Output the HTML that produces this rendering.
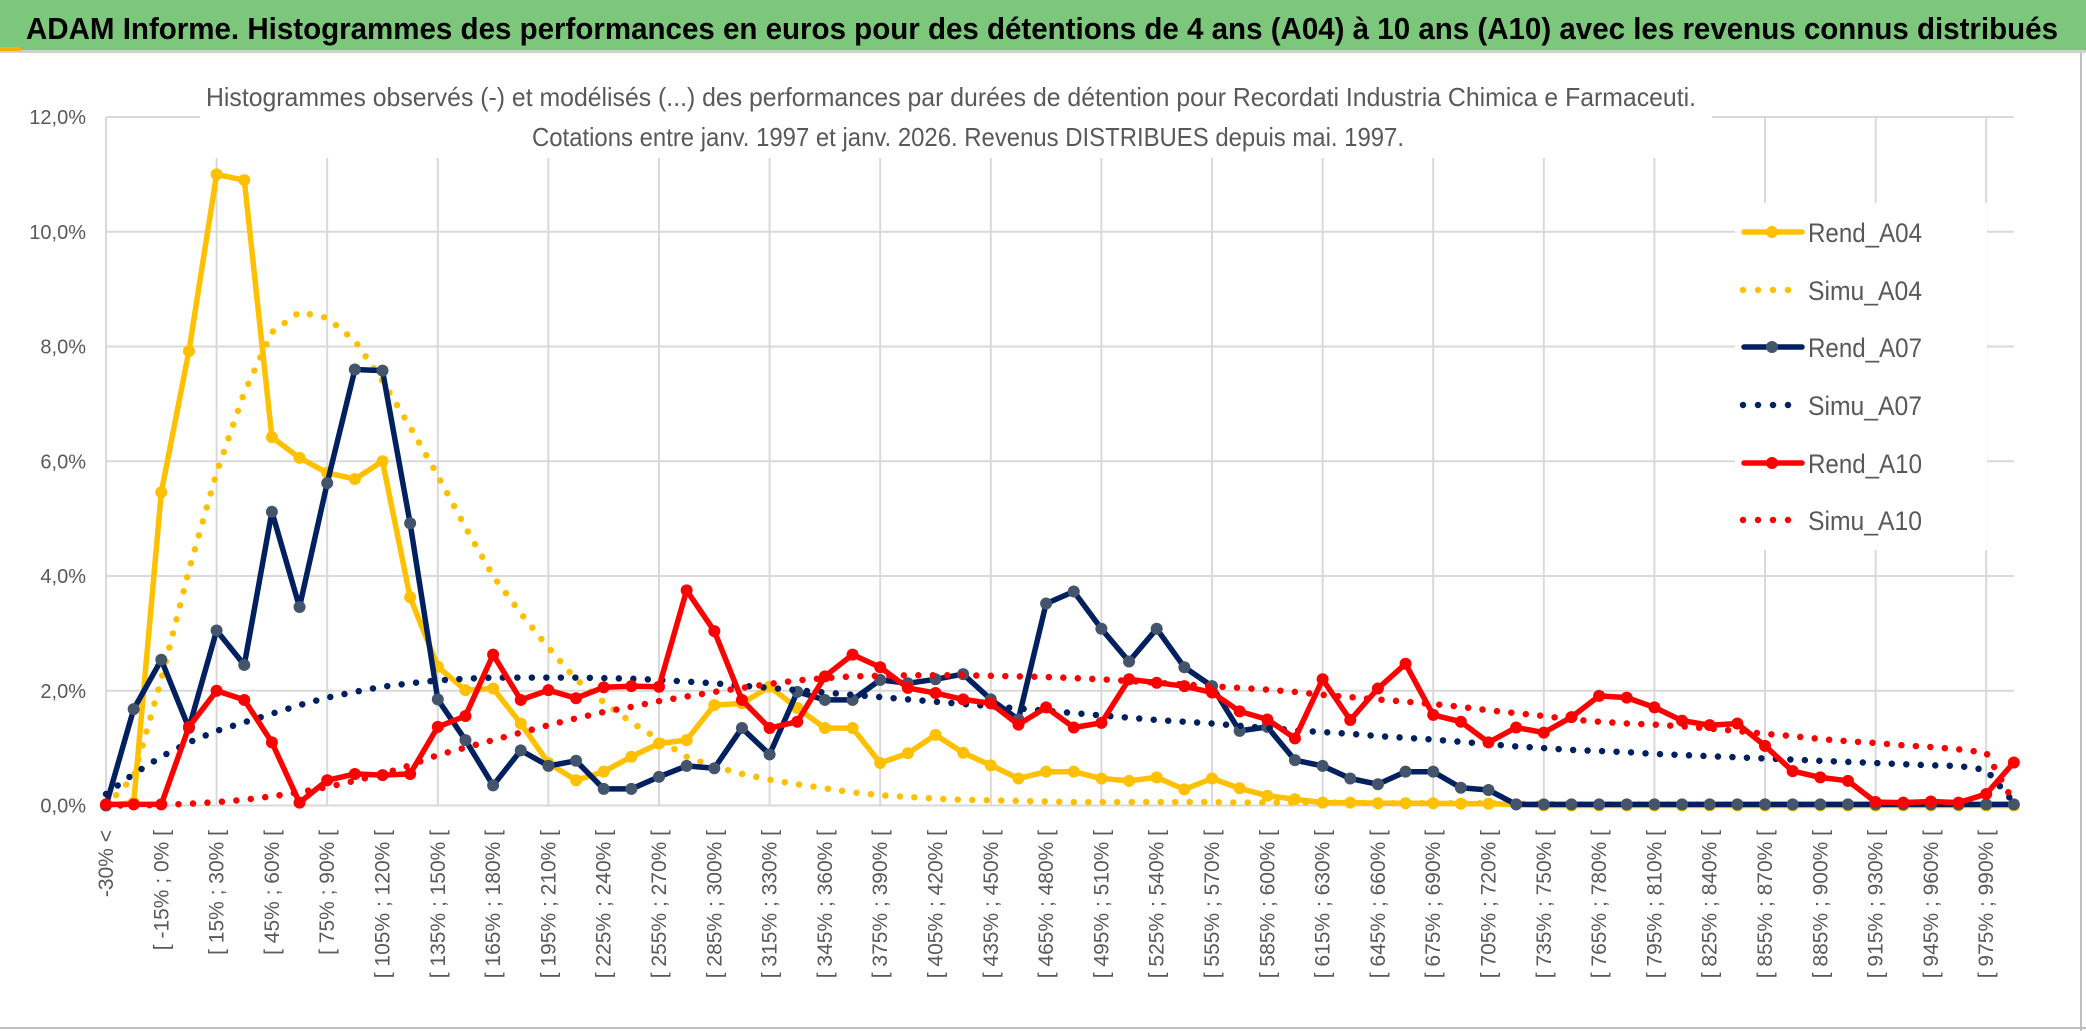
<!DOCTYPE html>
<html><head><meta charset="utf-8">
<style>
html,body{margin:0;padding:0;background:#fff;}
svg{display:block;font-family:"Liberation Sans",sans-serif;}
</style></head>
<body>
<svg id="chart" width="2086" height="1031" viewBox="0 0 2086 1031" xmlns="http://www.w3.org/2000/svg">
  <rect x="0" y="0" width="2086" height="1031" fill="#ffffff"/>
  <rect x="0" y="0" width="2086" height="50" fill="#7dc77d"/>
  <rect x="0" y="50" width="2086" height="3" fill="#d0d0d0"/>
  <rect x="0" y="47" width="21" height="4" fill="#f0b400"/>
  <text x="26" y="39" font-size="31" font-weight="bold" fill="#000" textLength="2032" lengthAdjust="spacingAndGlyphs">ADAM Informe. Histogrammes des performances en euros pour des détentions de 4 ans (A04) à 10 ans (A10) avec les revenus connus distribués</text>
  <line x1="2081" y1="53" x2="2081" y2="1031" stroke="#bfbfbf" stroke-width="2"/>
  <line x1="0" y1="1028" x2="2086" y2="1028" stroke="#bfbfbf" stroke-width="2"/>
  <g id="grid"></g>
  <g id="yaxis"></g>
  <g id="xaxis"></g>
  <g id="series"></g>
  <rect x="200" y="76" width="1512" height="82" fill="#fff"/>
  <text x="206" y="106" font-size="26" fill="#595959" textLength="1490" lengthAdjust="spacingAndGlyphs">Histogrammes observés (-) et modélisés (...) des performances par durées de détention pour Recordati Industria Chimica e Farmaceuti.</text>
  <text x="532" y="146" font-size="26" fill="#595959" textLength="872" lengthAdjust="spacingAndGlyphs">Cotations entre janv. 1997 et janv. 2026. Revenus DISTRIBUES depuis mai. 1997.</text>
  <g id="legend"></g>
</svg>
<script>
const yTicks = ["0,0%","2,0%","4,0%","6,0%","8,0%","10,0%","12,0%"];
const yTickValues = [0,2,4,6,8,10,12];
const rendA04 = [0,0.05,5.46,7.92,11.0,10.9,6.42,6.06,5.8,5.69,6.0,3.63,2.42,2.01,2.04,1.43,0.74,0.44,0.59,0.85,1.08,1.14,1.75,1.78,2.07,1.7,1.35,1.35,0.74,0.91,1.23,0.92,0.7,0.47,0.59,0.59,0.47,0.43,0.49,0.28,0.47,0.3,0.17,0.11,0.05,0.05,0.04,0.04,0.04,0.03,0.03,0.02,0,0,0,0,0,0,0,0,0,0,0,0,0,0,0,0,0,0];
const simuA04 = [0,0.5,2.2,4.1,5.8,7.2,8.25,8.6,8.5,8.1,7.4,6.6,5.75,4.85,4.0,3.35,2.75,2.2,1.8,1.45,1.15,0.85,0.68,0.55,0.45,0.37,0.3,0.23,0.18,0.15,0.12,0.1,0.09,0.08,0.07,0.06,0.06,0.06,0.06,0.06,0.06,0.05,0.05,0.05,0.05,0.05,0.04,0.04,0.04,0.04,0.04,0.03,0.03,0.02,0.02,0.02,0.02,0.02,0.02,0.02,0.01,0.01,0.01,0.01,0.01,0.01,0.01,0.01,0.01,0.01];
const rendA07 = [0,1.68,2.54,1.35,3.05,2.45,5.12,3.46,5.62,7.6,7.58,4.92,1.85,1.14,0.35,0.96,0.69,0.78,0.29,0.29,0.5,0.69,0.65,1.35,0.89,1.98,1.84,1.84,2.19,2.13,2.2,2.29,1.85,1.5,3.52,3.73,3.08,2.51,3.08,2.41,2.08,1.3,1.37,0.79,0.69,0.47,0.37,0.59,0.59,0.31,0.27,0.02,0.02,0.02,0.02,0.02,0.02,0.02,0.02,0.02,0.02,0.02,0.02,0.02,0.02,0.02,0.02,0.02,0.02,0.02];
const simuA07 = [0.2,0.55,0.85,1.1,1.3,1.45,1.6,1.75,1.88,1.98,2.07,2.13,2.18,2.21,2.23,2.23,2.23,2.23,2.22,2.21,2.19,2.16,2.13,2.09,2.05,2.01,1.97,1.93,1.89,1.85,1.81,1.77,1.73,1.69,1.65,1.61,1.57,1.53,1.49,1.46,1.43,1.39,1.35,1.31,1.28,1.25,1.21,1.18,1.15,1.11,1.07,1.03,1.0,0.97,0.95,0.93,0.9,0.88,0.86,0.84,0.82,0.8,0.78,0.76,0.74,0.72,0.7,0.69,0.62,0.05];
const rendA10 = [0.02,0.02,0.02,1.37,2.0,1.84,1.1,0.05,0.44,0.55,0.53,0.55,1.37,1.56,2.63,1.84,2.01,1.87,2.06,2.08,2.07,3.75,3.04,1.84,1.35,1.46,2.25,2.63,2.41,2.05,1.96,1.85,1.78,1.41,1.71,1.36,1.44,2.2,2.14,2.08,1.97,1.64,1.5,1.17,2.2,1.49,2.04,2.47,1.58,1.46,1.1,1.36,1.27,1.54,1.91,1.88,1.71,1.48,1.4,1.43,1.04,0.6,0.49,0.43,0.06,0.05,0.07,0.05,0.2,0.75];
const simuA10 = [0,0,0.01,0.03,0.06,0.1,0.16,0.23,0.32,0.43,0.55,0.7,0.88,1.01,1.14,1.27,1.4,1.52,1.63,1.72,1.82,1.9,1.98,2.05,2.12,2.18,2.22,2.25,2.26,2.27,2.27,2.27,2.26,2.25,2.24,2.22,2.2,2.17,2.14,2.11,2.08,2.05,2.02,1.98,1.93,1.89,1.85,1.81,1.77,1.72,1.66,1.61,1.56,1.5,1.46,1.43,1.41,1.38,1.34,1.3,1.25,1.21,1.16,1.12,1.09,1.05,1.02,0.98,0.92,0.06];
const seriesNames = ["Rend_A04","Simu_A04","Rend_A07","Simu_A07","Rend_A10","Simu_A10"];
const categories = [];
categories.push("-30% <");
for (let k = 1; k < 70; k++) {
  categories.push("[ " + (-30 + 15 * (k - 1)) + "% ; " + (-15 + 15 * (k - 1)) + "% [");
}

const NS = "http://www.w3.org/2000/svg";
const X0 = 106, DX = 27.65, Y0 = 805.5, PY = 57.37;
function xScale(i) { return X0 + i * DX; }
function yScale(v) { return Y0 - v * PY; }
function mk(tag, attrs, parent) {
  const e = document.createElementNS(NS, tag);
  for (const k in attrs) e.setAttribute(k, attrs[k]);
  parent.appendChild(e);
  return e;
}
const grid = document.getElementById("grid");
const yaxis = document.getElementById("yaxis");
const xaxis = document.getElementById("xaxis");
const seriesG = document.getElementById("series");
const legend = document.getElementById("legend");
const lastX = xScale(categories.length - 1);

yTickValues.forEach((v, j) => {
  const y = yScale(v);
  const gl = mk("line", {x1: X0, y1: y, x2: lastX, y2: y, stroke: "#d9d9d9", "stroke-width": 2}, grid);
  
  
  const t = mk("text", {x: 86, y: y + 7, "font-size": 20, fill: "#595959", "text-anchor": "end"}, yaxis);
  t.textContent = yTicks[j];
  
  
});
for (let i = 0; i < categories.length; i += 4) {
  const x = xScale(i);
  const gl = mk("line", {x1: x, y1: yScale(12), x2: x, y2: Y0, stroke: "#d9d9d9", "stroke-width": 2}, grid);
  
  
}
for (let i = 0; i < categories.length - 1; i += 2) {
  const x = xScale(i);
  const t = mk("text", {x: 0, y: 0, "font-size": 21, fill: "#595959", "text-anchor": "end",
    transform: "translate(" + (x + 7) + ",830) rotate(-90)"}, xaxis);
  t.textContent = categories[i];
  
  
}

const styles = [
  {data: rendA04, color: "#ffc000", marker: "#ffc000", dotted: false},
  {data: simuA04, color: "#ffc000", dotted: true},
  {data: rendA07, color: "#002060", marker: "#44546a", dotted: false},
  {data: simuA07, color: "#002060", dotted: true},
  {data: rendA10, color: "#ff0000", marker: "#ff0000", dotted: false},
  {data: simuA10, color: "#ff0000", dotted: true}
];
styles.forEach((s, si) => {
  const g = mk("g", {}, seriesG);
  
  
  const pts = s.data.map((v, i) => xScale(i).toFixed(1) + "," + yScale(v).toFixed(1)).join(" ");
  const attrs = {points: pts, fill: "none", stroke: s.color, "stroke-linejoin": "round"};
  if (s.dotted) { attrs["stroke-width"] = 6.5; attrs["stroke-dasharray"] = "0 14.5"; attrs["stroke-linecap"] = "round"; }
  else { attrs["stroke-width"] = 5.5; attrs["stroke-linecap"] = "round"; }
  const pl = mk("polyline", attrs, g);
  
  
  if (!s.dotted) {
    s.data.forEach((v, i) => {
      const c = mk("circle", {cx: xScale(i), cy: yScale(v), r: 6, fill: s.marker}, g);
      
      
    });
  }
});

const lbg = mk("rect", {x: 1735, y: 203, width: 252, height: 347, fill: "#fff"}, legend);


const legendY = [232, 290, 347, 405, 463, 520];
styles.forEach((s, si) => {
  const y = legendY[si];
  const g = mk("g", {}, legend);
  
  
  if (s.dotted) {
    mk("line", {x1: 1743, y1: y, x2: 1802, y2: y, stroke: s.color, "stroke-width": 6.5, "stroke-dasharray": "0 15", "stroke-linecap": "round"}, g);
  } else {
    mk("line", {x1: 1744, y1: y, x2: 1802, y2: y, stroke: s.color, "stroke-width": 5.5, "stroke-linecap": "round"}, g);
    mk("circle", {cx: 1772, cy: y, r: 6, fill: s.marker}, g);
  }
  const t = mk("text", {x: 1808, y: y + 10, "font-size": 27, fill: "#595959", textLength: 114, lengthAdjust: "spacingAndGlyphs"}, g);
  t.textContent = seriesNames[si];
});
</script>
</body></html>
